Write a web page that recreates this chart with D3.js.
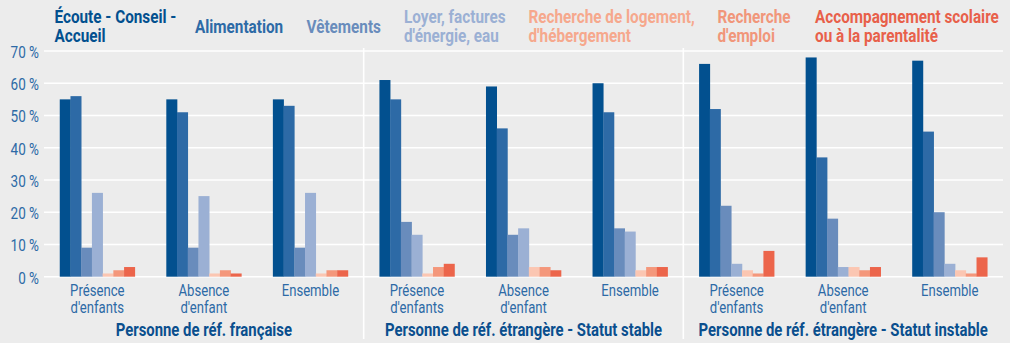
<!DOCTYPE html>
<html>
<head>
<meta charset="utf-8">
<script src="https://cdn.jsdelivr.net/npm/d3@7"></script>
<style>
  html, body { margin: 0; padding: 0; background: #ececec; }
  svg { display: block; font-family: Roboto, "Noto Sans", sans-serif; }
</style>
</head>
<body>
<svg id="chart" width="1010" height="343"></svg>
<script>
// Household types (panels) and child situation (groups inside each panel)
const panels = ["Personne de réf. française", "Personne de réf. étrangère - Statut stable", "Personne de réf. étrangère - Statut instable"];
const situations = ["Présence\nd'enfants", "Absence\nd'enfant", "Ensemble"];

// Type of help received (series), with their legend labels
const series = ["Écoute - Conseil -\nAccueil", "Alimentation", "Vêtements", "Loyer, factures\nd'énergie, eau",
                "Recherche de logement,\nd'hébergement", "Recherche\nd'emploi", "Accompagnement scolaire\nou à la parentalité"];

// Share of households (%) per series, for the 9 groups (panel × situation)
const ecoute       = [55, 55, 55, 61, 59, 60, 66, 68, 67];
const alimentation = [56, 51, 53, 55, 46, 51, 52, 37, 45];
const vetements    = [9, 9, 9, 17, 13, 15, 22, 18, 20];
const loyer        = [26, 25, 26, 13, 15, 14, 4, 3, 4];
const logement     = [1, 1, 1, 1, 3, 2, 2, 3, 2];
const emploi       = [2, 2, 2, 3, 3, 3, 1, 2, 1];
const scolaire     = [3, 1, 2, 4, 2, 3, 8, 3, 6];

const yTicks = [0, 10, 20, 30, 40, 50, 60, 70];

const barColors    = ["#02508f", "#2d6aa6", "#698cbc", "#9bb0d4", "#fbc6b2", "#f4977b", "#ec654b"];
const legendColors = ["#02508f", "#2d6aa6", "#698cbc", "#9bb0d4", "#f6a88d", "#f1967a", "#e8604a"];

const valuesBySeries = [ecoute, alimentation, vetements, loyer, logement, emploi, scolaire];

const svg = d3.select("#chart");
// horizontal squeeze for a condensed look (regular / bold)
const SX_REG = 0.82, SX_BOLD = 0.85;

const plotLeft = 44, plotRight = 1003, plotTop = 51, plotBottom = 276.7;

const groups = [];
panels.forEach((p, pi) => situations.forEach((s, si) => groups.push({ key: pi + "-" + si, panel: pi, label: s, idx: pi * 3 + si })));

const x = d3.scaleBand().domain(groups.map(g => g.key)).range([plotLeft, plotRight]).padding(0);
const xInner = d3.scaleBand().domain(d3.range(series.length)).range([0, x.bandwidth()])
  .paddingInner(0).paddingOuter(1.47);
const y = d3.scaleLinear().domain([0, 70]).range([plotBottom, plotTop]);

// helper: multi-line condensed text
function label(g, px, py, text, opts) {
  const bold = (opts.weight || 400) >= 700;
  const t = g.append("text")
    .attr("transform", `translate(${px},${py}) scale(${bold ? SX_BOLD : SX_REG},1)`)
    .attr("text-anchor", opts.anchor || "start")
    .attr("font-size", opts.size)
    .attr("font-weight", opts.weight || 400)
    .attr("fill", opts.fill);
  text.split("\n").forEach((line, i) => {
    t.append("tspan").attr("x", 0).attr("dy", i === 0 ? 0 : opts.lh).text(line);
  });
  return t;
}

// gridlines
svg.append("g").selectAll("line").data(yTicks).join("line")
  .attr("x1", plotLeft).attr("x2", plotRight)
  .attr("y1", d => y(d)).attr("y2", d => y(d))
  .attr("stroke", "#ffffff").attr("stroke-width", 1.6);

// panel separators
[3, 6].forEach(i => {
  const sx = x(groups[i].key);
  svg.append("line").attr("x1", sx).attr("x2", sx).attr("y1", 48).attr("y2", 339)
    .attr("stroke", "#ffffff").attr("stroke-width", 1.6);
});

// y tick labels
const yl = svg.append("g");
yTicks.forEach(t => label(yl, 39, y(t) + 7, t + " %", { anchor: "end", size: 16.5, fill: "#2d6aa6" }));

// bars
const barG = svg.append("g");
groups.forEach(g => {
  const gx = x(g.key);
  valuesBySeries.forEach((vals, si) => {
    barG.append("rect")
      .attr("x", gx + xInner(si))
      .attr("width", xInner.bandwidth() + 0.3)
      .attr("y", y(vals[g.idx]))
      .attr("height", y(0) - y(vals[g.idx]))
      .attr("fill", barColors[si]);
  });
});

// category labels
const xl = svg.append("g");
groups.forEach(g => label(xl, x(g.key) + x.bandwidth() / 2, 296, g.label, { anchor: "middle", size: 16, fill: "#2d6aa6", lh: 17 }));

// panel titles
const pl = svg.append("g");
panels.forEach((p, pi) => {
  const x0 = x(groups[pi * 3].key), x1 = x(groups[pi * 3 + 2].key) + x.bandwidth();
  label(pl, (x0 + x1) / 2, 336, p, { anchor: "middle", size: 17.5, weight: 700, fill: "#0a4f8e" });
});

// legend
const legendX = [54.5, 195, 306.5, 404, 528.5, 717.5, 815];
const lg = svg.append("g");
series.forEach((s, i) => {
  const twoLines = s.includes("\n");
  label(lg, legendX[i], twoLines ? 22.5 : 32.5, s, { size: 18, weight: 700, fill: legendColors[i], lh: 19.3 });
});
</script>
</body>
</html>
